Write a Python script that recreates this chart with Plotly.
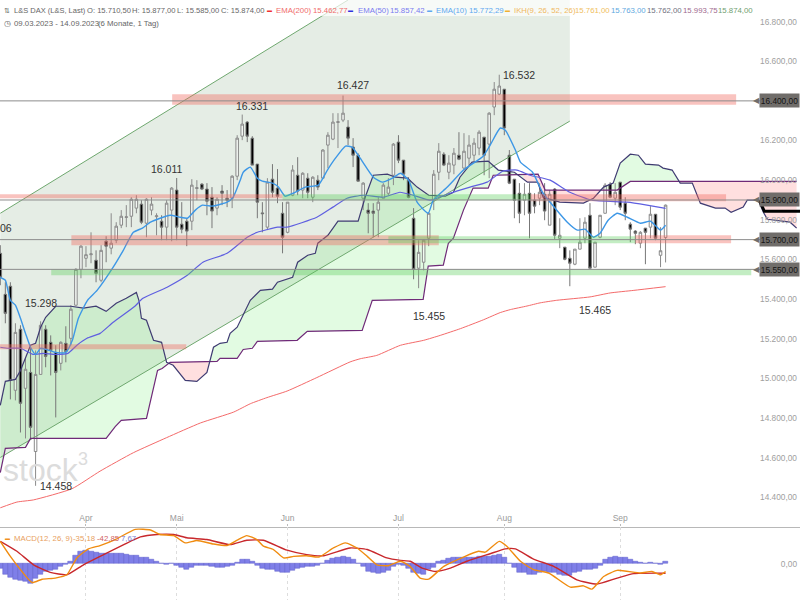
import numpy as np
import plotly.graph_objects as go

# ---------- data ----------
months = ["Apr", "Mai", "Jun", "Jul", "Aug", "Sep"]
month_bars = [17, 35, 57, 79, 100, 123]
price_ticks = [16800, 16600, 16200, 16000, 15800, 15600, 15400, 15200, 15000, 14800, 14600, 14400]

opens = [15631,15424,15465,14940,15248,14950,15030,14631,15020,15248,15182,15131,15076,15177,15202,15369,15550,15606,15624,15596,
         15495,15692,15657,15697,15773,15812,15818,15859,15879,15783,15849,15816,15793,15763,15849,15950,15778,15793,15793,15958,
         15980,15955,15914,15859,15945,15909,15909,16020,16222,16293,16212,16081,15835,15763,16005,15960,15833,15737,15924,16025,
         15950,16010,15914,16000,16010,16177,16207,16291,16303,16268,16167,16126,15909,15849,15844,15849,15909,15934,16025,16192,
         16101,16000,15808,15556,15586,15707,15899,16040,16131,16040,16076,16126,16061,16111,16126,16162,16217,16182,16369,16434,
         16459,16126,16005,15934,15899,15934,15899,15909,15929,15773,15955,15707,15662,15606,15576,15652,15707,15823,15561,15712,
         15833,15980,15909,15990,15884,15778,15743,15682,15758,15763,15828,15621,15710.5]
highs = [15672,15485,15485,15278,15268,15101,15157,15141,15288,15268,15217,15167,15187,15263,15369,15556,15672,15667,15737,15646,
         15672,15717,15833,15788,15849,15874,15914,15924,15899,15909,15914,15833,15823,15899,15965,16011,15889,15808,16005,16000,
         15985,15985,15965,15914,15975,15950,16025,16227,16331,16298,16222,16081,15889,16010,16081,16056,15889,15889,16076,16116,
         16040,16035,16020,16025,16157,16242,16338,16338,16427,16303,16212,16136,15990,15884,15884,15914,15985,16010,16187,16227,
         16101,16015,15859,15697,15702,15838,16051,16187,16141,16126,16162,16242,16237,16227,16212,16252,16217,16343,16495,16532,
         16459,16152,16005,15985,15985,15985,15934,15985,15985,15950,15960,15808,15662,15646,15652,15808,15813,15884,15687,15823,
         15985,15990,15985,15990,15914,15788,15748,15743,15758,15869,15828,15763,15877]
lows = [15470,15278,14894,14889,14727,14697,14697,14458,15020,15056,15015,14803,15040,15081,15167,15369,15505,15561,15581,15485,
        15485,15586,15626,15682,15758,15763,15763,15833,15778,15712,15823,15722,15697,15697,15692,15697,15732,15667,15748,15899,
        15950,15823,15758,15823,15874,15864,15859,16000,16202,16192,16076,15808,15737,15748,15914,15884,15631,15732,15919,15924,
        15909,15909,15889,15950,16010,16061,16202,16162,16293,16177,16066,15995,15849,15732,15712,15712,15909,15924,15975,16086,
        16000,15909,15500,15455,15545,15667,15849,16000,16071,16005,16030,16101,16051,16076,16086,16126,16025,16010,16328,16429,
        16227,15980,15808,15783,15823,15707,15833,15874,15798,15773,15702,15657,15596,15465,15571,15652,15682,15556,15561,15707,
        15833,15909,15874,15849,15798,15687,15677,15657,15576,15707,15697,15561,15585]
closes = [15510,15328,14990,15232,14874,15046,14753,15020,15268,15111,15141,15030,15182,15136,15349,15550,15667,15624,15628,15530,
          15646,15667,15682,15768,15818,15815,15904,15904,15788,15904,15879,15820,15763,15884,15960,15763,15753,15743,15975,15962,
          15955,15894,15844,15904,15934,15899,16020,16212,16283,16222,16076,15889,15831,15990,15939,15919,15712,15889,16051,15945,
          16035,15939,16015,15965,16152,16227,16293,16295,16338,16212,16126,15995,15985,15833,15833,15889,15975,15965,16182,16101,
          16030,15914,15550,15636,15697,15833,16030,16146,16076,16086,16136,16106,16146,16177,16187,16242,16126,16338,16459,16475,
          16263,15985,15899,15833,15929,15833,15869,15939,15844,15929,15722,15722,15601,15581,15652,15687,15788,15556,15687,15823,
          15975,15914,15939,15864,15833,15753,15732,15737,15737,15828,15707,15644,15874]

ema200_bar = [0,3.3,6.6,14.2,19.8,26.4,33,39.7,46.3,49.6,52.9,56.9,62.8,69.4,71.4,74.7,79.4,84,87.3,91.3,95.9,99.2,101.2,104.5,107.1,110.4,117,121,125.7,132]
ema200_val = [14347,14376,14387,14443,14532,14625,14701,14775,14830,14872,14903,14936,15004,15083,15099,15116,15167,15192,15217,15251,15296,15332,15347,15365,15381,15394,15411,15431,15444,15462.77]
ema50_bar = [0,1.6,4,6.5,8.5,10.9,13.4,15.2,17.2,19.8,22.4,26.7,28.3,33.1,37.1,40.2,45,49,51,55,56.9,62.8,66,68.8,72,76,79.3,81.9,85.3,89.2,93.2,96.6,99.7,102.5,105.1,109.1,113,117.4,124.4,128.3,132]
ema50_val = [15157,15152,15152,15121,15126,15121,15126,15167,15202,15227,15283,15364,15404,15460,15520,15586,15631,15712,15737,15763,15763,15813,15864,15909,15924,15914,15939,15924,15899,15934,15965,15990,16045,16051,16025,16000,15939,15899,15889,15874,15857.42]
ema10_bar = [0,1,2,3,4,5,6,7,8,9,11,13,14.3,15.5,17.3,19.2,22.4,24.4,26.4,28.2,29.8,31.7,33.7,35.7,37.1,38.7,40.1,42,45,46.2,47.6,48.2,49.6,51,52,54,55.2,56.5,58.1,60.5,63.1,64.9,66.5,68.5,69.8,71.4,74,75.8,77.8,79.4,81,82.7,84.9,85.9,88.7,91.9,95.8,97.2,99.2,100.2,102.2,103.2,105.6,107.7,112.5,114.5,116,117.7,119,120.6,122.4,124.4,127,129,131,132]
ema10_val = [15510,15495,15394,15369,15303,15227,15157,15121,15152,15147,15131,15131,15192,15303,15394,15444,15561,15646,15737,15758,15788,15808,15823,15813,15808,15849,15874,15869,15889,15914,16000,16040,16066,16010,15995,15985,15965,15919,15934,15965,15975,16051,16111,16172,16167,16111,16015,15990,16010,16035,16000,15889,15833,15899,15965,16051,16121,16177,16263,16252,16152,16091,16040,15934,15788,15748,15753,15712,15732,15798,15833,15813,15783,15793,15748,15772.29]

span_a_bar = [0,1,3,4,6,7,8,9,11,14,16.5,19,21,23,25,27,27.5,28,29,30.4,32,33,34.3,36.7,39,41,42.3,43.6,45,45.6,47,49.6,51.6,54,55,58,59,61,62.5,63,65,67,71,72.4,74,76.8,78.4,80.8,82.7,85,88.3,89.9,91.2,93.6,96.8,98.8,102,104.6,106.6,107.7,111,115.7,117.7,119.7,121.6,123,125,126.6,128,130.6,131.5,133.3,134.9,137.3,138.9,141.9,143.8,145,147.4,148.2,150.4,151.4,152.2,156.7,158]
span_a_val = [14864,14985,14995,15040,15167,15177,15258,15308,15364,15364,15354,15364,15338,15379,15404,15434,15394,15303,15293,15192,15182,15081,15066,14990,14985,15030,15157,15177,15182,15227,15258,15394,15444,15450,15485,15510,15586,15621,15631,15682,15722,15793,15793,15914,16025,16030,16015,16010,15965,15924,15919,15939,16015,16091,16096,16051,16040,15990,15990,15914,15889,15884,15909,15965,15985,16086,16131,16126,16081,16076,16061,16051,15985,15985,15884,15859,15859,15838,15864,15899,15899,15838,15803,15788,15758]
span_b_bar = [0,1,5,6,21,22.8,24,29,31.2,32.1,33.7,43,43.6,47,48.2,50,51,58.9,60.9,71.8,73.8,83.9,84.9,87.9,88.9,89.9,91.9,93.8,96.8,97.8,106.7,108.1,122.4,125,158]
span_b_val = [14525,14647,14652,14697,14697,14757,14788,14798,15040,15050,15081,15086,15101,15101,15146,15152,15187,15192,15237,15242,15394,15399,15566,15571,15682,15707,15849,15960,15960,16025,16030,15950,15950,15993.75,15993.75]
cloud_edges = [0, 33.5, 41.3, 103.8, 119.3, 134.5, 158]

channel_bar = [0, 69, 113]
channel_upper = [15833, 16909, 17471]
channel_lower = [14601, 15612, 16298]

macd_bars = [-20,-50,-61,-70,-77,-80,-88,-65,-50,-35,-30,-24,-12,-5,11,36,53,59,56,52,47,45,45,45,44,42,39,36,29,26,18,11,1,-2,-1,-8,-17,-26,-15,-8,
             -6,-6,-12,-15,-15,-12,-6,6,18,21,11,-6,-20,-24,-27,-33,-42,-39,-30,-21,-15,-14,-12,-9,0,15,24,29,32,30,21,0,-12,-35,-42,-45,-42,-30,-12,-3,
             -9,-20,-39,-45,-50,-24,-17,8,14,23,26,30,30,30,30,32,32,33,38,42,29,3,-15,-39,-42,-47,-47,-42,-35,-39,-42,-48,-52,-55,-42,-35,-24,-27,-20,-8,
             18,27,33,30,26,18,9,6,2,5,0,-5,7.67]
macd_bar = [0,2,4,6.3,8.3,10.9,13.2,15.2,17.5,19.8,22.8,26.8,29.8,31.7,34.4,36.7,39,42.3,45,47,48.9,50.9,52.2,54.2,56.2,58.2,60.8,63.2,66.1,68.5,70.8,72.8,74.7,77,79.4,81.3,83.3,85,88,91.9,94.9,96.2,99,100.5,103.2,105.8,108.8,113.1,115.7,117.4,119.7,122.4,127,129.3,131,132]
macd_val = [101,33,-27,-85,-70,-65,-50,26,67,82,109,155,152,132,127,94,105,89,82,106,127,109,79,64,26,33,36,30,71,94,71,33,-5,-9,11,-12,-65,-70,-12,30,56,52,101,79,11,-27,-42,-106,-100,-115,-58,-30,-42,-35,-50,-35.18]
signal_bar = [0,3.3,6.6,9.9,13.2,16.5,20.5,24.5,27.8,31.1,34.4,37,41,45.6,48.9,52.2,56.9,60.8,64.2,69.4,72.8,76.7,79.4,81.3,83.7,86.3,89.3,92.6,97.2,100.2,102.2,105.8,109.8,114.4,118.4,122.4,125.7,132]
signal_val = [101,56,-5,-39,-50,-5,41,86,121,132,132,117,109,86,106,106,61,41,36,71,64,26,15,11,-20,-35,-20,11,45,67,67,21,-12,-73,-92,-65,-45,-42.85]

red_zones = [(34.1,146,16434,16381),(-1,56,15929,15909),(105.2,144,15929,15894),(14.1,87,15722,15672),(126,145,15722,15682),(-1,36.9,15172,15147)]
green_zones = [(56,105.2,15929,15899),(77,126,15717,15682),(10.1,149,15550,15520)]
level_values = [16400, 15900, 15700, 15550]
level_labels = ["16.400,00", "15.900,00", "15.700,00", "15.550,00"]
peak_labels = [("06",1.2,15757),("15.298",8.1,15379),("16.011",33,16056),("16.331",50,16374),("16.427",70,16480),("16.532",103,16530),("15.455",85,15313),("15.465",118,15343),("14.458",11,14455)]

# ---------- style ----------
FONT = "Liberation Sans, Arial, sans-serif"
bars = list(range(len(opens)))
PW, PH = 800, 600
XR = [-0.06, 158.67]
YR = [14252.7, 16909.0]
TAG = "#706d6a"

fig = go.Figure()

shapes = []
def poly(xs, ys, color):
    d = "M " + " L ".join(f"{a} {b}" for a, b in zip(xs, ys)) + " Z"
    return dict(type="path", path=d, xref="x", yref="y", fillcolor=color, line_width=0, layer="below")

# channel
shapes.append(poly([channel_bar[0], channel_bar[1], channel_bar[2], channel_bar[2], channel_bar[0]],
                   [channel_upper[0], channel_upper[1], channel_upper[1], channel_lower[2], channel_lower[0]],
                   "rgba(50,110,50,0.125)"))

# cloud
def cloud(x0, x1, color):
    ax = [v for v in span_a_bar if x0 < v < x1]
    ay = [v for b, v in zip(span_a_bar, span_a_val) if x0 < b < x1]
    bx = [v for v in span_b_bar if x0 < v < x1]
    by = [v for b, v in zip(span_b_bar, span_b_val) if x0 < b < x1]
    xs = [x0] + ax + [x1, x1] + bx[::-1] + [x0]
    ys = [np.interp(x0, span_a_bar, span_a_val)] + ay + [np.interp(x1, span_a_bar, span_a_val), np.interp(x1, span_b_bar, span_b_val)] + by[::-1] + [np.interp(x0, span_b_bar, span_b_val)]
    return poly(xs, ys, color)
GREEN, PINK = "rgba(110,235,110,0.20)", "rgba(255,120,120,0.24)"
for k in range(len(cloud_edges) - 1):
    shapes.append(cloud(cloud_edges[k], cloud_edges[k + 1], GREEN if k % 2 == 0 else PINK))

# candles
fig.add_trace(go.Candlestick(x=bars, open=opens, high=highs, low=lows, close=closes,
    increasing=dict(line=dict(color="#8a8a8a", width=1), fillcolor="rgba(255,255,255,0.55)"),
    decreasing=dict(line=dict(color="#777777", width=1), fillcolor="#000000"),
    whiskerwidth=0, showlegend=False, xaxis="x", yaxis="y"))

def line(x, y, color, width, smooth=True):
    fig.add_trace(go.Scatter(x=x, y=y, mode="lines", showlegend=False, hoverinfo="skip",
        line=dict(color=color, width=width, shape="spline" if smooth else "linear", smoothing=0.5), xaxis="x", yaxis="y"))

# channel borders
line(channel_bar[:2], channel_upper[:2], "#6fa86f", 1, False)
line([channel_bar[0], channel_bar[2]], [channel_lower[0], channel_lower[2]], "#6fa86f", 1, False)
line(span_b_bar, span_b_val, "#6f2a78", 1.2, False)
line(span_a_bar, span_a_val, "#3f3b72", 1.2, False)
line(ema200_bar, ema200_val, "#f46a6a", 1)
line(ema50_bar, ema50_val, "#5f5fe0", 1.2)
line(ema10_bar, ema10_val, "#3d97e6", 1.4)

# black stripe under the 15.900 tag
line([150.6, 151.6, 159], [15899, 15843, 15843], "#000000", 3, False)

# zones
for x0, x1, p0, p1 in red_zones:
    shapes.append(dict(type="rect", xref="x", yref="y", x0=x0, x1=x1, y0=p0, y1=p1, fillcolor="rgba(240,105,95,0.40)", line_width=0, layer="above"))
for x0, x1, p0, p1 in green_zones:
    shapes.append(dict(type="rect", xref="x", yref="y", x0=x0, x1=x1, y0=p0, y1=p1, fillcolor="rgba(90,205,90,0.36)", line_width=0, layer="above"))

# level lines and tags
anns = []
for p, lab in zip(level_values, level_labels):
    shapes.append(dict(type="line", xref="x", yref="y", x0=XR[0], x1=151, y0=p, y1=p, line=dict(color="#8c8c8c", width=1), layer="above"))
    anns.append(dict(xref="paper", yref="y", x=756/PW, y=p, text="◀", showarrow=False, xanchor="center", yanchor="middle",
                     font=dict(family="DejaVu Sans", size=8, color=TAG)))
    anns.append(dict(xref="paper", yref="y", x=800/PW, y=p, text=lab, showarrow=False, xanchor="right", yanchor="middle",
                     align="center", width=38, height=12, bgcolor=TAG, borderpad=0.5,
                     font=dict(family=FONT, size=8.3, color="#141414")))

for t, b, p in peak_labels:
    anns.append(dict(xref="x", yref="y", x=b, y=p, text=t, showarrow=False, xanchor="center", yanchor="middle",
                     font=dict(family=FONT, size=10.5, color="#333333")))

# white band under header
shapes.append(dict(type="rect", xref="paper", yref="paper", x0=0, x1=570/PW, y0=1-16/PH, y1=1, fillcolor="rgba(255,255,255,0.7)", line_width=0, layer="above"))

def htext(px, py, t, color, size=7.8, anchor="left"):
    anns.append(dict(xref="paper", yref="paper", x=px/PW, y=1-py/PH, text=t, showarrow=False, xanchor=anchor, yanchor="middle",
                     font=dict(family=FONT, size=size, color=color)))

GREY = "#666666"
htext(2, 10, "⇅", GREY, 7)
htext(12, 10, "L&S DAX (L&S, Last)", GREY, 7.5)
htext(85, 10, "O: 15.710,50", GREY, 7.6)
htext(130, 10, "H: 15.877,00", GREY, 7.6)
htext(175, 10, "L: 15.585,00", GREY, 7.6)
htext(219, 10, "C: 15.874,00", GREY, 7.6)
htext(265, 10, "▬", "#f03030", 5)
htext(274, 10, "EMA(200)", "#f06a6a")
htext(311, 10, "15.462,77", "#f06a6a")
htext(346, 10, "▬", "#3030e0", 5)
htext(356, 10, "EMA(50)", "#7a7af0")
htext(388, 10, "15.857,42", "#7a7af0")
htext(425, 10, "▬", "#60a8f0", 5)
htext(434, 10, "EMA(10)", "#60a8f0")
htext(467, 10, "15.772,29", "#60a8f0")
htext(503, 10, "▬", "#f0b030", 5)
htext(512, 10, "IKH(9, 26, 52, 26)", "#f0b860")
htext(573, 10, "15.761,00", "#f0c060")
htext(609, 10, "15.763,00", "#60a8e0")
htext(645, 10, "15.762,00", "#707080")
htext(681, 10, "15.993,75", "#a06a90")
htext(716, 10, "15.874,00", "#70a070")
htext(2, 23, "◷", GREY, 8)
htext(12, 23, "09.03.2023 - 14.09.2023", GREY)
htext(96, 23, "(6 Monate, 1 Tag)", GREY)

htext(3, 538, "▬", "#f09020", 5)
htext(12, 538, "MACD(12, 26, 9)", "#e8a060")
htext(71, 538, "-35,18", "#e8a060")
htext(95, 538, "-42,85", "#d06060")
htext(119, 538, "7,67", "#7a7ad0")

# watermark
htext(1, 470, "stock", "#dcdcdc", 32)
htext(76, 459, "3", "#dcdcdc", 18)

# MACD panel
fig.add_trace(go.Bar(x=bars, y=macd_bars, width=1, marker=dict(color="#7f7fe8", line=dict(color="#5c5cc8", width=0.5)),
                     showlegend=False, xaxis="x2", yaxis="y2"))
fig.add_trace(go.Scatter(x=signal_bar, y=signal_val, mode="lines", line=dict(color="#c8282c", width=1.4, shape="spline", smoothing=0.5),
                         showlegend=False, xaxis="x2", yaxis="y2"))
fig.add_trace(go.Scatter(x=macd_bar, y=macd_val, mode="lines", line=dict(color="#f08c10", width=1.4, shape="spline", smoothing=0.5),
                         showlegend=False, xaxis="x2", yaxis="y2"))

price_text = [f"{v:,.2f}".replace(",", "X").replace(".", ",").replace("X", ".") for v in price_ticks]
split = 1 - 526.5 / PH
fig.update_layout(
    width=PW, height=PH, margin=dict(l=0, r=0, t=0, b=0), plot_bgcolor="white", paper_bgcolor="white",
    bargap=0, boxgap=0.28, showlegend=False, shapes=shapes, annotations=anns,
    font=dict(family=FONT),
    xaxis=dict(domain=[0, 1], range=XR, anchor="y", showgrid=False, zeroline=False, rangeslider=dict(visible=False),
               tickvals=month_bars, ticktext=months, ticklabelposition="inside", ticks="inside", ticklen=2, tickcolor="#bbbbbb",
               tickfont=dict(family=FONT, size=8.5, color="#9a9a9a"), showline=True, linecolor="#b8b8b8", linewidth=1.2),
    yaxis=dict(domain=[split, 1], range=YR, anchor="x", side="right", showgrid=False, zeroline=False, tickvals=price_ticks, ticktext=price_text,
               ticklabelposition="inside", tickfont=dict(family=FONT, size=8.3, color="#a0a0a0"), ticks=""),
    xaxis2=dict(domain=[0, 1], range=XR, anchor="y2", showgrid=True, griddash="dot", gridcolor="#dddddd", zeroline=False, tickvals=month_bars,
                ticktext=[""] * len(months), ticks="", showline=False),
    yaxis2=dict(domain=[0, split], range=[-164, 168], anchor="x2", side="right", showgrid=False, zeroline=False, tickvals=[0], ticktext=["0,00"],
                ticklabelposition="inside", tickfont=dict(family=FONT, size=8.3, color="#a0a0a0"), ticks=""),
)
fig.write_html("out.html", post_script="document.body.style.margin='0';", config={"displayModeBar": False})
